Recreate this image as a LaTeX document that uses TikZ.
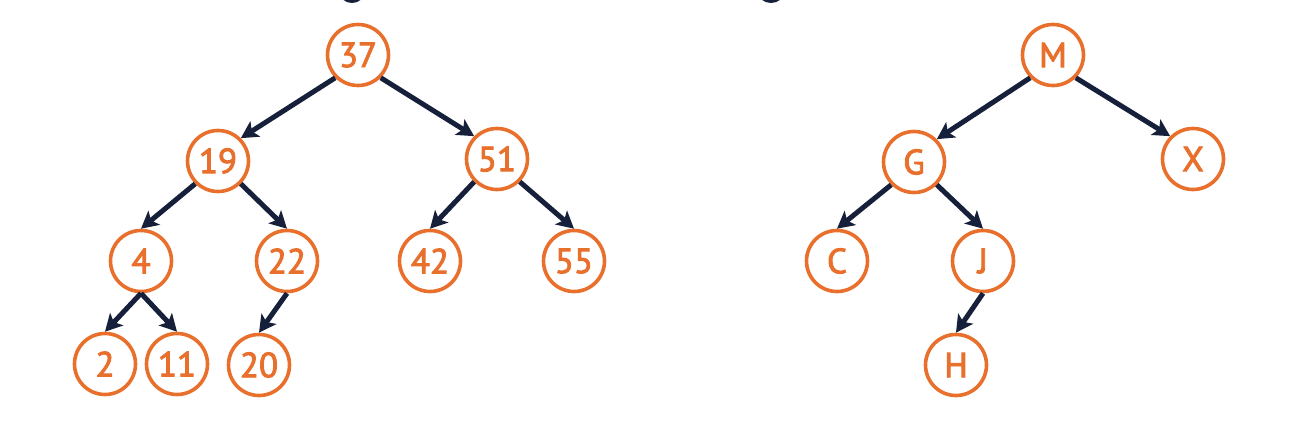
\documentclass[tikz,border=0pt]{standalone}
\usepackage{fontspec}
\newfontfamily\nodefont{PT Sans}[FakeBold=2.6]
\usetikzlibrary{arrows.meta}
\definecolor{nodeorange}{HTML}{E8702C}
\definecolor{edgenavy}{HTML}{16203A}
\begin{document}
\begin{tikzpicture}[x=1pt,y=-1pt,
  treenode/.style={circle,draw=nodeorange,line width=3.6pt,minimum size=61pt,inner sep=0pt,
    text=nodeorange,font=\nodefont\fontsize{35}{35}\selectfont},
  treeedge/.style={draw=edgenavy,line width=5pt,-{Stealth[length=17pt,width=18pt,inset=4pt]}}]
\useasboundingbox (0,0) rectangle (1296,422);
\begin{scope}
\clip (0,0) rectangle (1296,422);
\fill[edgenavy] (352,-8) ellipse [x radius=12.5, y radius=11];
\fill[edgenavy] (771,-8) ellipse [x radius=13, y radius=11];
\end{scope}
% left tree
\node[treenode] (n37) at (358,55) {37};
\node[treenode] (n19) at (218,161) {19};
\node[treenode] (n51) at (497,159) {51};
\node[treenode] (n4) at (141,261) {4};
\node[treenode] (n22) at (287,261) {22};
\node[treenode] (n42) at (430,261) {42};
\node[treenode] (n55) at (574,261) {55};
\node[treenode] (n2) at (105,364) {2};
\node[treenode] (n11) at (177,364) {11};
\node[treenode] (n20) at (259,365) {20};
\draw[treeedge] (n37.south west) -- (n19.north east);
\draw[treeedge] (n37.south east) -- (n51.north west);
\draw[treeedge] (n19.south west) -- (n4.north);
\draw[treeedge] (n19.south east) -- (n22.north);
\draw[treeedge] (n51.south west) -- (n42.north);
\draw[treeedge] (n51.south east) -- (n55.north);
\draw[treeedge] (n4.south) -- (n2.north);
\draw[treeedge] (n4.south) -- (n11.north);
\draw[treeedge] (n22.south) -- (n20.north);
% right tree
\node[treenode] (nM) at (1053,55) {M};
\node[treenode] (nG) at (914,162) {G};
\node[treenode] (nX) at (1193,159) {X};
\node[treenode] (nC) at (837,261) {C};
\node[treenode] (nJ) at (983,261) {J};
\node[treenode] (nH) at (956,365) {H};
\draw[treeedge] (nM.south west) -- (nG.north east);
\draw[treeedge] (nM.south east) -- (nX.north west);
\draw[treeedge] (nG.south west) -- (nC.north);
\draw[treeedge] (nG.south east) -- (nJ.north);
\draw[treeedge] (nJ.south) -- (nH.north);
\end{tikzpicture}
\end{document}
